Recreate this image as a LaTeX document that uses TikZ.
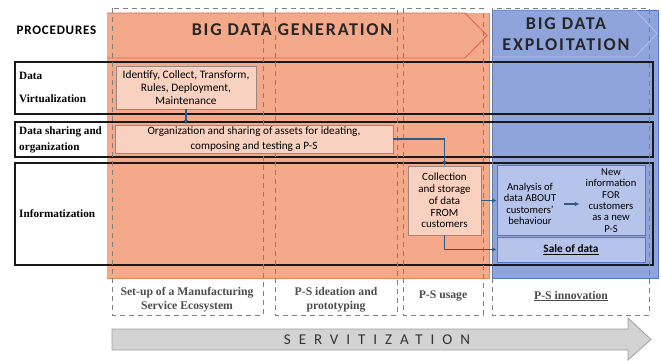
\documentclass[tikz,border=0pt]{standalone}
\usepackage{fontspec}
\setmainfont{Liberation Serif}
\newfontfamily\carl{Carlito}
\newfontfamily\carlsp[LetterSpace=10]{Carlito}
\newfontfamily\carlproc[LetterSpace=6]{Carlito}
\newfontfamily\carlwide[LetterSpace=53]{Carlito}
\usetikzlibrary{arrows.meta}
\definecolor{orangebg}{HTML}{F4A98A}
\definecolor{orangeedge}{HTML}{E8874F}
\definecolor{chevred}{HTML}{D8634C}
\definecolor{bluebg}{HTML}{8FA4DA}
\definecolor{blueedge}{HTML}{5574C8}
\definecolor{chevblue}{HTML}{B3C0EA}
\definecolor{peach}{HTML}{FAD9CB}
\definecolor{peachedge}{HTML}{9A8880}
\definecolor{lightblue}{HTML}{B6C4EC}
\definecolor{arrowblue}{HTML}{2D5A88}
\definecolor{dashgray}{HTML}{808080}
\definecolor{labelgray}{HTML}{4D4D4D}
\definecolor{servfill}{HTML}{D3D3D3}
\definecolor{servedge}{HTML}{A0A0A0}
\begin{document}
\begin{tikzpicture}[x=1pt,y=-1pt,
  rowbox/.style={draw=black!90,line width=1.3pt},
  colbox/.style={draw=dashgray,dash pattern=on 5pt off 4pt,line width=0.9pt},
  peachbox/.style={draw=peachedge,fill=peach,fill opacity=0.85,text opacity=1,line width=0.8pt,inner sep=0pt,font=\carl\fontsize{11.4}{13}\selectfont,align=center},
  bluebox/.style={draw=blueedge,fill=lightblue,line width=0.8pt,inner sep=0pt,font=\carl\fontsize{11.3}{13}\selectfont,align=center},
  bluetext/.style={font=\carl\fontsize{10.6}{11.3}\selectfont,align=center,inner sep=1pt},
  arr/.style={draw=arrowblue,line width=1.3pt,-{Latex[length=4.5pt,width=4.5pt]}},
  rowlabel/.style={anchor=west,font=\bfseries\fontsize{11.2}{16}\selectfont,align=left,inner sep=0pt},
  collabel/.style={font=\bfseries\fontsize{11.7}{13.5}\selectfont,text=labelgray,align=center},
  header/.style={font=\carlsp\bfseries\fontsize{18}{21}\selectfont,align=center,text=black!85},
]
\useasboundingbox (0,0) rectangle (661,361);
\fill[white] (0,0) rectangle (661,361);
% backgrounds
\fill[orangebg] (107,13) rectangle (489,278);
\draw[orangeedge,line width=0.9pt] (489,13) -- (489,278) -- (107,278);
\fill[bluebg] (492,10) rectangle (658,278);
\draw[blueedge,line width=0.9pt] (492,10) rectangle (658,278);
% chevrons
\draw[chevred,line width=0.8pt] (107,13) -- (465,13) -- (487,35.5) -- (465,58) -- (107,58);
\draw[chevblue,line width=0.8pt] (492,10) -- (635,10) -- (657,33.5) -- (635,57) -- (492,57);
% row boxes
\draw[rowbox] (15,62) rectangle (653,114);
\draw[rowbox] (15,122) rectangle (653,157);
\draw[rowbox] (15,163) rectangle (653,265);
% dashed columns
\draw[colbox] (112,8) rectangle (263,315);
\draw[colbox] (275,8) rectangle (397,315);
\draw[colbox] (403,8) rectangle (483,315);
\draw[colbox] (492,8) rectangle (649,315);
% header texts
\node[font=\carlproc\bfseries\fontsize{13}{14}\selectfont] (proc) at (56.5,30) {PROCEDURES};
\node[header] (gen) at (292,30) {BIG DATA GENERATION};
\node[header] (expl) at (566,34.5) {BIG DATA\\EXPLOITATION};
% row labels
\node[rowlabel,font=\bfseries\fontsize{11.2}{23}\selectfont] (rl1) at (19,87) {Data\\Virtualization};
\node[rowlabel] (rl2) at (19,139.5) {Data sharing and\\organization};
\node[rowlabel] (rl3) at (19,214) {Informatization};
% inner boxes
\node[peachbox,minimum width=140pt,minimum height=43pt] (ident) at (186,87.5) {Identify, Collect, Transform,\\Rules, Deployment,\\Maintenance};
\node[peachbox,font=\carl\fontsize{11.2}{15}\selectfont,minimum width=278pt,minimum height=28pt] (org) at (254,139) {Organization and sharing of assets for ideating,\\composing and testing a P-S};
\node[peachbox,font=\carl\fontsize{11}{11.8}\selectfont,minimum width=73pt,minimum height=69pt] (coll) at (444.5,200.5) {Collection\\and storage\\of data\\FROM\\customers};
\node[bluebox,minimum width=148pt,minimum height=70pt] (ana) at (571,200) {};
\node[bluetext] (anatext) at (530,204) {Analysis of\\data ABOUT\\customers’\\behaviour};
\node[bluetext] (newtext) at (611,200.5) {New\\information\\FOR\\customers\\as a new\\P-S};
\node[bluebox,minimum width=148pt,minimum height=25pt] (sale) at (571,249.5) {\bfseries\underline{Sale of data}};
% connectors
\draw[arr] (ident.south) -- (ident.south |- org.north);
\draw[arr] (org.east) -| (coll.north);
\draw[arr] (coll.east) -- (coll.east -| ana.west);
\draw[arr] (coll.south) |- (sale.west);
\draw[arr,shorten <=7pt,shorten >=5pt] (anatext.east) -- (anatext.east -| newtext.west);
% column labels
\node[collabel] (c1) at (187,299.5) {Set-up of a Manufacturing\\Service Ecosystem};
\node[collabel] (c2) at (336,299.5) {P-S ideation and\\prototyping};
\node[collabel] (c3) at (443,296) {P-S usage};
\node[collabel] (c4) at (571,296) {\underline{P-S innovation}};
% servitization arrow
\draw[servedge,fill=servfill,line width=0.8pt] (112,329) -- (628,329) -- (628,318) -- (651,339.5) -- (628,360) -- (628,350) -- (112,350) -- cycle;
\node[font=\carlwide\fontsize{15}{16}\selectfont,text=black!80] (serv) at (377,340) {SERVITIZATION};
\end{tikzpicture}
\end{document}
